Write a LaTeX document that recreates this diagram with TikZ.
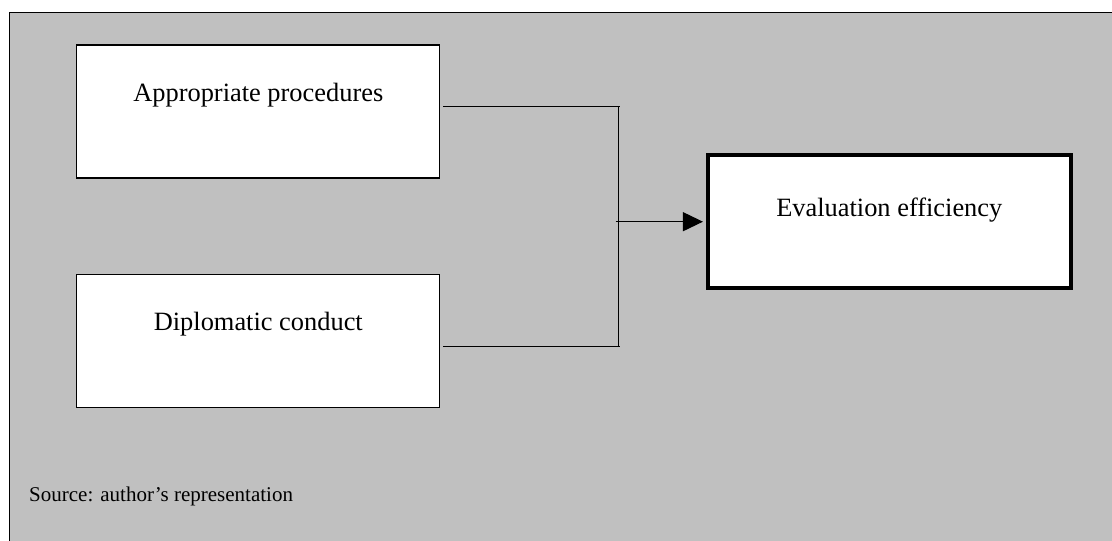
\documentclass[tikz,border=0pt]{standalone}
\usepackage{fontspec}
\setmainfont{Liberation Serif}
\usetikzlibrary{arrows.meta}
\definecolor{panelgray}{HTML}{C0C0C0}
\begin{document}
\begin{tikzpicture}[x=1pt,y=-1pt,
  inbox/.style={draw=black,line width=1.3pt,fill=white,rectangle,
    minimum width=363pt,minimum height=133pt,inner sep=0pt},
  outbox/.style={draw=black,line width=4pt,fill=white,rectangle,
    minimum width=362.7pt,minimum height=132.7pt,inner sep=0pt},
  boxtext/.style={anchor=base,inner sep=0pt,font=\fontsize{26.4}{30}\selectfont},
  srctext/.style={anchor=base west,inner sep=0pt,font=\fontsize{21}{25}\selectfont},
  link/.style={draw=black,line width=1.2pt}]
  \useasboundingbox (0,0) rectangle (1112,541);
  \clip (0,0) rectangle (1112,541);
  % panel
  \fill[white] (0,0) rectangle (1112,541);
  \draw[line width=1.3pt,fill=panelgray] (9.5,12.5) rectangle (1130,560);

  % factor boxes
  \node[inbox] (p1) at (258.3,111.5) {};
  \node[boxtext] (p1t) at (258.3,101.7) {Appropriate procedures};
  \node[inbox] (p2) at (258.3,341) {};
  \node[boxtext] (p2t) at (258.3,330.7) {Diplomatic conduct};

  % outcome box
  \node[outbox] (ev) at (889.3,221.7) {};
  \node[boxtext] (evt) at (889.3,216) {Evaluation efficiency};

  % bracket joining the two factors
  \coordinate (ja) at (620,106.7);
  \coordinate (jb) at (620,346.7);
  \coordinate (jv1) at (618.5,106.7);
  \coordinate (jv2) at (618.5,346.7);
  \coordinate (jm) at (615.7,221.7);
  \draw[link] ([xshift=2.7pt,yshift=4.8pt]p1.east) -- (ja);
  \draw[link] ([xshift=2.7pt,yshift=-5.7pt]p2.east) -- (jb);
  \draw[link] (jv1) -- (jv2);
  \draw[link,-{Triangle[length=20pt,width=19pt]},shorten >=3pt] (jm) -- (ev.west);

  % source note
  \node[srctext] (src) at (29,501.7) {Source: author’s representation};
\end{tikzpicture}
\end{document}
